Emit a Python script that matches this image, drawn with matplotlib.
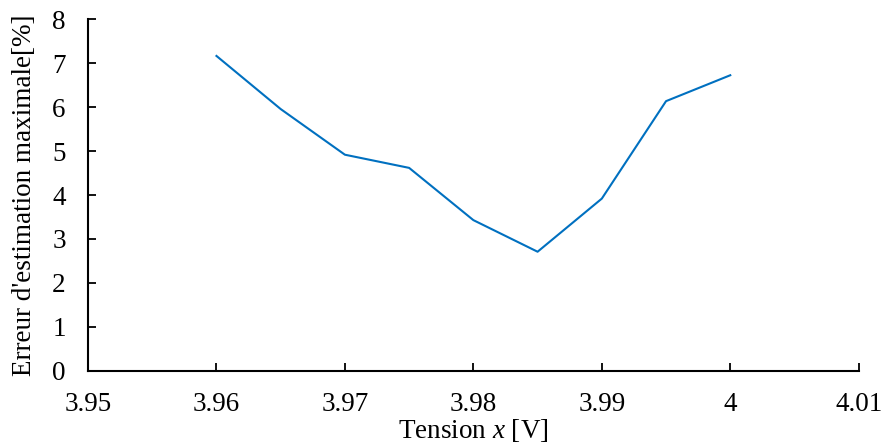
import matplotlib
matplotlib.use("Agg")
import matplotlib.pyplot as plt

tension = [3.96, 3.965, 3.97, 3.975, 3.98, 3.985, 3.99, 3.995, 4.00]
erreur = [7.17, 5.96, 4.92, 4.62, 3.43, 2.71, 3.92, 6.14, 6.73]
xticks = [3.95, 3.96, 3.97, 3.98, 3.99, 4.00, 4.01]
xticklabels = ["3.95", "3.96", "3.97", "3.98", "3.99", "4", "4.01"]
yticks = [0, 1, 2, 3, 4, 5, 6, 7, 8]

plt.rcParams['font.family'] = ['Liberation Serif', 'DejaVu Serif']
plt.rcParams['mathtext.fontset'] = 'custom'
plt.rcParams['mathtext.it'] = 'Liberation Serif:italic'
plt.rcParams['mathtext.rm'] = 'Liberation Serif'

fig = plt.figure(figsize=(8.81, 4.43), dpi=100)
ax = fig.add_axes([0.0999, 0.1632, 0.8748, 0.7928])
ax.plot(tension, erreur, color='#0070C0', linewidth=1.5)
ax.set_xlim(3.95, 4.01)
ax.set_ylim(0, 8)
ax.set_xticks(xticks)
ax.set_xticklabels(xticklabels)
ax.set_yticks(yticks)
for s in ['top', 'right']:
    ax.spines[s].set_visible(False)
for s in ['left', 'bottom']:
    ax.spines[s].set_linewidth(1.5)
ax.tick_params(axis='both', direction='in', length=6, width=1.3, labelsize=19.5)
ax.tick_params(axis='x', pad=15)
ax.tick_params(axis='y', pad=16)
ax.set_xlabel("Tension $x$ [V]", fontsize=19.5, labelpad=0)
ax.set_ylabel("Erreur d'estimation maximale[%]", fontsize=19.5, labelpad=11)
fig.savefig("out.png", dpi=100)
